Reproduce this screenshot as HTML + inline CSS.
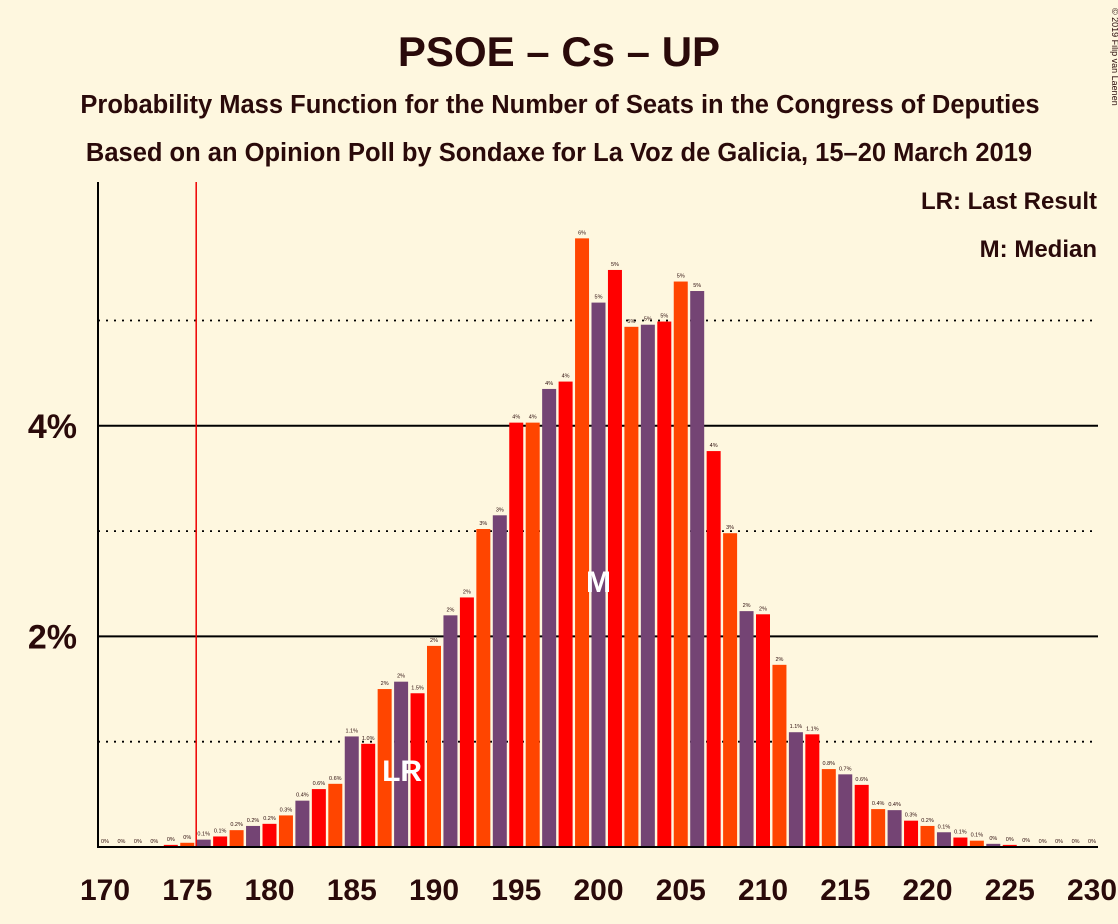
<!DOCTYPE html>
<html><head><meta charset="utf-8"><style>
body{margin:0;background:#fef7df;}
svg{display:block;font-family:"Liberation Sans",sans-serif;}
</style></head><body>
<svg id="chart" width="1118" height="924" viewBox="0 0 1118 924">
<rect width="1118" height="924" fill="#fef7df"/>
<text x="559" y="66" text-anchor="middle" font-size="42" font-weight="bold" fill="#2a0a0a">PSOE – Cs – UP</text>
<text x="560" y="113" text-anchor="middle" font-size="25.5" font-weight="bold" fill="#2a0a0a">Probability Mass Function for the Number of Seats in the Congress of Deputies</text>
<text x="559" y="161" text-anchor="middle" font-size="25.5" font-weight="bold" fill="#2a0a0a">Based on an Opinion Poll by Sondaxe for La Voz de Galicia, 15–20 March 2019</text>
<text x="1112" y="8" font-size="9" fill="#2a0a0a" transform="rotate(90 1112 8)">© 2019 Filip van Laenen</text>
<text x="1097" y="209" text-anchor="end" font-size="24" font-weight="bold" fill="#2a0a0a">LR: Last Result</text>
<text x="1097" y="257" text-anchor="end" font-size="24" font-weight="bold" fill="#2a0a0a">M: Median</text>
<g id="grid"></g><g id="bars"></g><g id="axes"></g>
</svg>
<script>
const seats=[170,171,172,173,174,175,176,177,178,179,180,181,182,183,184,185,186,187,188,189,190,191,192,193,194,195,196,197,198,199,200,201,202,203,204,205,206,207,208,209,210,211,212,213,214,215,216,217,218,219,220,221,222,223,224,225,226,227,228,229,230];
const probs=[0,0,0,0,0.02,0.04,0.07,0.1,0.16,0.2,0.22,0.3,0.44,0.55,0.6,1.05,0.98,1.5,1.57,1.46,1.91,2.2,2.37,3.02,3.15,4.03,4.03,4.35,4.42,5.78,5.17,5.48,4.94,4.96,4.99,5.37,5.28,3.76,2.98,2.24,2.21,1.73,1.09,1.07,0.74,0.69,0.59,0.36,0.35,0.25,0.2,0.14,0.09,0.06,0.03,0.02,0.01,0,0,0,0];
const labels=["0%","0%","0%","0%","0%","0%","0.1%","0.1%","0.2%","0.2%","0.2%","0.3%","0.4%","0.6%","0.6%","1.1%","1.0%","2%","2%","1.5%","2%","2%","2%","3%","3%","4%","4%","4%","4%","6%","5%","5%","5%","5%","5%","5%","5%","4%","3%","2%","2%","2%","1.1%","1.1%","0.8%","0.7%","0.6%","0.4%","0.4%","0.3%","0.2%","0.1%","0.1%","0.1%","0%","0%","0%","0%","0%","0%","0%"];
const xTicks=[170,175,180,185,190,195,200,205,210,215,220,225,230];
const solidY=[2,4], dottedY=[1,3,5];
const lastResult=188, median=200, majority=176;
const NS="http://www.w3.org/2000/svg";
const X=s=>105+(s-170)*16.45, Y=v=>847-v*105.3;
function mk(t,a,p){const e=document.createElementNS(NS,t);for(const k in a)e.setAttribute(k,a[k]);p.appendChild(e);return e;}
const grid=document.getElementById('grid'),bars=document.getElementById('bars'),axes=document.getElementById('axes');
dottedY.forEach(v=>{const l=mk('line',{x1:98,x2:1098,y1:Y(v),y2:Y(v),stroke:'#000','stroke-width':1.8,'stroke-dasharray':'2,6'},grid);

});
solidY.forEach(v=>{const l=mk('line',{x1:98,x2:1098,y1:Y(v),y2:Y(v),stroke:'#000','stroke-width':2},grid);


const t=mk('text',{x:77,y:Y(v)+12,'text-anchor':'end','font-size':34,'font-weight':'bold',fill:'#2a0a0a'},axes);t.textContent=v+'%';

});
const cols={1:'#ff4500',2:'#744474',0:'#ff0000'};
seats.forEach((s,i)=>{const v=probs[i];const h=v*105.3;
const r=mk('rect',{x:X(s)-7,y:Y(v),width:14,height:h,fill:cols[s%3]},bars);


const t=mk('text',{x:X(s),y:Y(v)-4,'text-anchor':'middle','font-size':5.5,fill:'#2a0a0a'},bars);t.textContent=labels[i];

});
const mt=mk('text',{x:X(median),y:592,'text-anchor':'middle','font-size':30,'font-weight':'bold',fill:'#fff'},bars);mt.textContent='M';


const lt=mk('text',{x:X(lastResult)+1,y:781,'text-anchor':'middle','font-size':30,'font-weight':'bold',fill:'#fff'},bars);lt.textContent='LR';


const ml=mk('line',{x1:X(majority)-7.5,x2:X(majority)-7.5,y1:182,y2:847,stroke:'#e00','stroke-width':1.5},axes);


const ya=mk('line',{x1:98,x2:98,y1:182,y2:848,stroke:'#000','stroke-width':2},axes);


const xa=mk('line',{x1:97,x2:1098,y1:847,y2:847,stroke:'#000','stroke-width':2},axes);


xTicks.forEach(s=>{const t=mk('text',{x:X(s),y:900,'text-anchor':'middle','font-size':30,'font-weight':'bold',fill:'#2a0a0a'},axes);t.textContent=s;

});
</script>
</body></html>
